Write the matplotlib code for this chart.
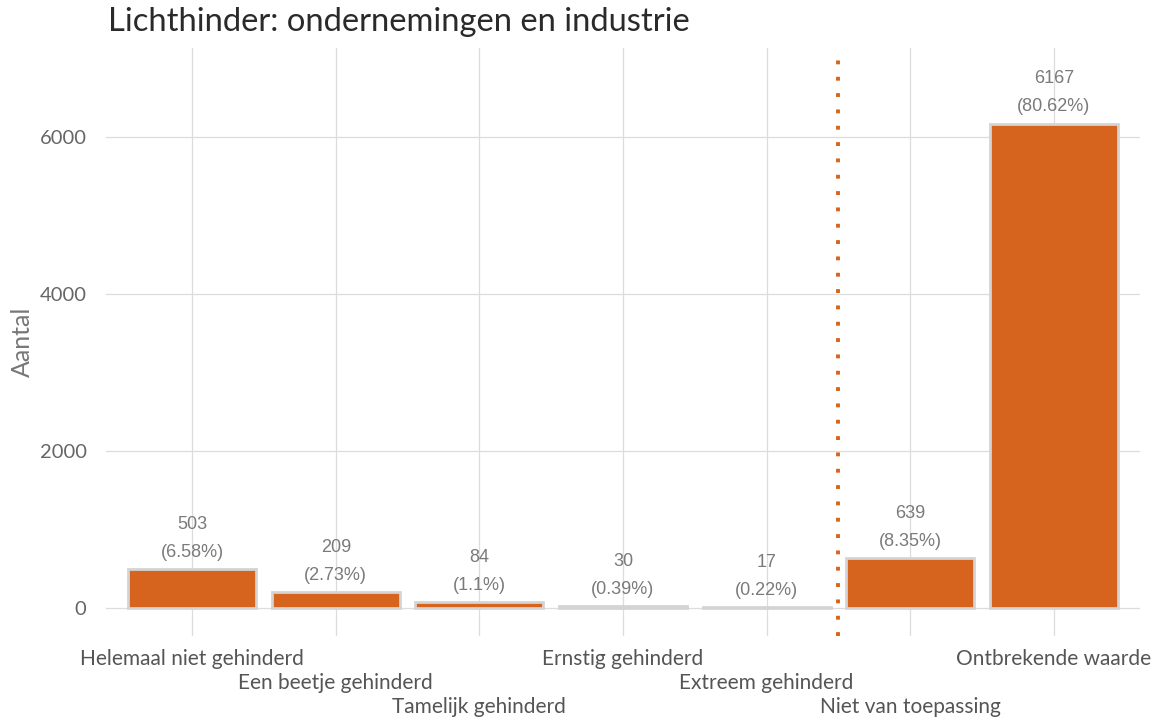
import matplotlib.pyplot as plt

# ------------------------------------------------------------
# Data
# ------------------------------------------------------------
categorieen = ['Helemaal niet gehinderd', 'Een beetje gehinderd', 'Tamelijk gehinderd',
               'Ernstig gehinderd', 'Extreem gehinderd', 'Niet van toepassing',
               'Ontbrekende waarde']
aantallen = [503, 209, 84, 30, 17, 639, 6167]
percentages = ['6.58%', '2.73%', '1.1%', '0.39%', '0.22%', '8.35%', '80.62%']
y_ticks = [0, 2000, 4000, 6000]

ORANJE = '#d6641f'
GRIJS_RAND = '#d4d4d4'
GRID = '#dcdcdc'

plt.rcParams['font.family'] = ['Lato', 'DejaVu Sans']

fig = plt.figure(figsize=(11.63, 7.18), dpi=100)
ax = fig.add_axes([106 / 1163, 1 - 636 / 718, 1034 / 1163, 588 / 718])

x = list(range(len(categorieen)))
ax.bar(x, aantallen, width=0.89, color=ORANJE, edgecolor=GRIJS_RAND, linewidth=2, zorder=3)

for xi, n, p in zip(x, aantallen, percentages):
    ax.annotate(f'{n}\n({p})', xy=(xi, n), xytext=(0, 6), textcoords='offset points',
                ha='center', va='bottom', fontsize=13, color='#7a7a7a',
                family=['Liberation Sans'], linespacing=1.85, zorder=4)

# scheiding tussen antwoorden en ontbrekend / n.v.t.
ax.axvline(4.5, color=ORANJE, linestyle=(0, (1, 3.2)), linewidth=2.8, zorder=4)

ax.set_xlim(-0.6, 6.6)
ax.set_ylim(-350, 7130)
ax.set_yticks(y_ticks)
ax.set_yticklabels([str(v) for v in y_ticks], fontsize=14.5, color='#666666')
ax.set_xticks(x)
ax.set_xticklabels([])
for xi, lab in enumerate(categorieen):
    rij = [0, 1, 2, 0, 1, 2, 0][xi]
    ax.text(xi, -0.039 - rij * 0.041, lab, transform=ax.get_xaxis_transform(),
            ha='center', va='center', fontsize=15, color='#555555')

ax.tick_params(length=0, pad=14)
ax.grid(True, color=GRID, linewidth=0.9, zorder=0)
for s in ax.spines.values():
    s.set_visible(False)

ax.set_ylabel('Aantal', fontsize=18, color='#777777', labelpad=4)
fig.text(108 / 1163, 1 - 22 / 718, 'Lichthinder: ondernemingen en industrie',
         fontsize=23.6, color='#2a2a2a', ha='left', va='center')

fig.savefig('out.png', dpi=100)
